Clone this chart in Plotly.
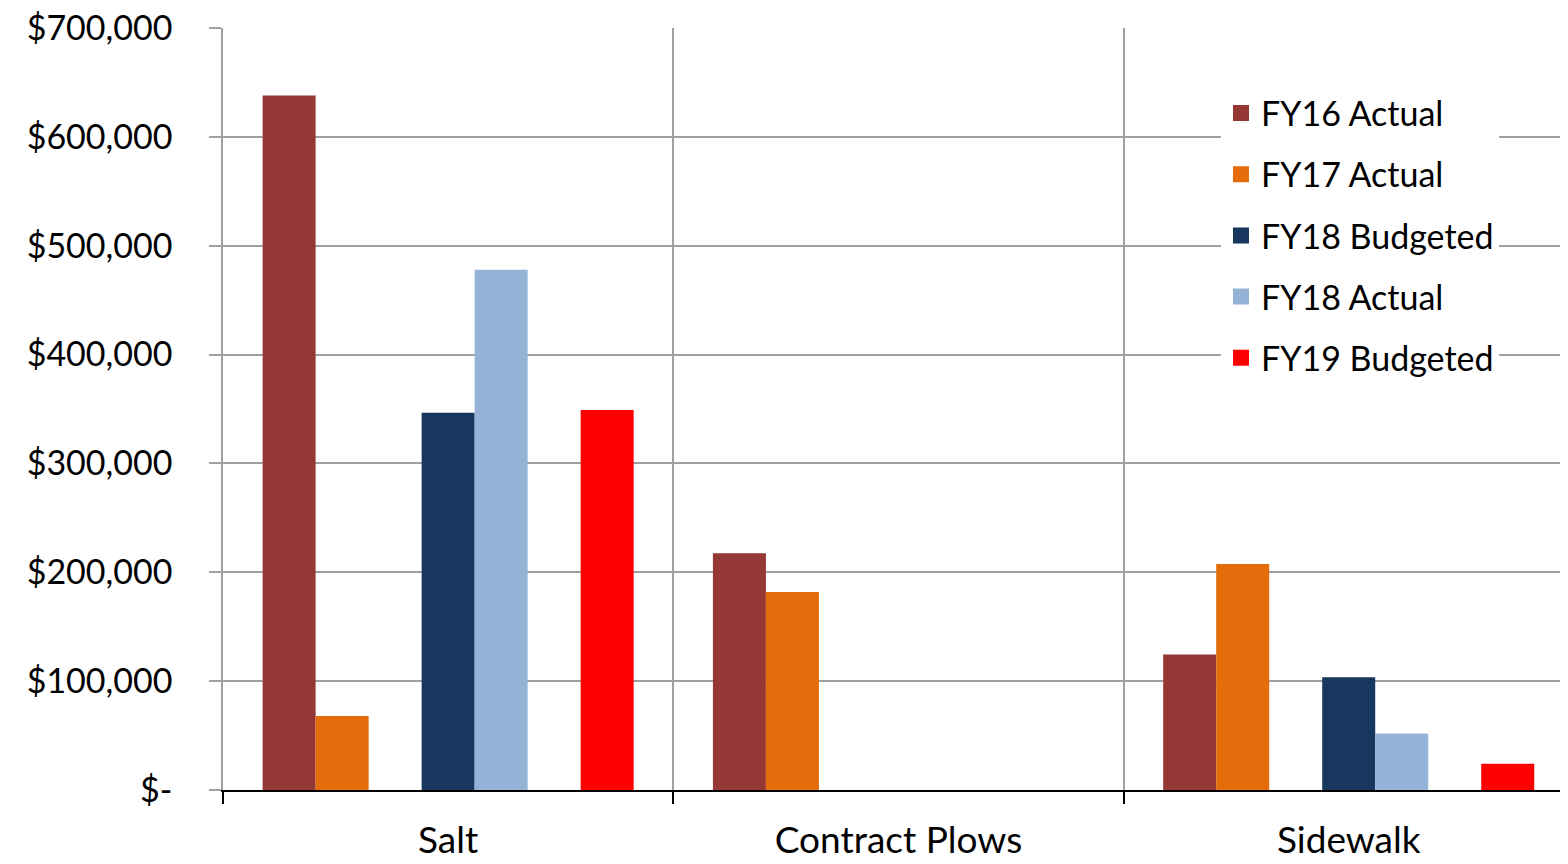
import plotly.graph_objects as go

categories = ["Salt", "Contract Plows", "Sidewalk"]
series_names = ["FY16 Actual", "FY17 Actual", "", "FY18 Budgeted", "FY18 Actual", "", "FY19 Budgeted"]
fy16_actual = [638000, 217500, 124500]
fy17_actual = [68000, 182000, 207500]
blank_a = [0, 0, 0]
fy18_budgeted = [346500, 0, 103500]
fy18_actual = [478000, 0, 52000]
blank_b = [0, 0, 0]
fy19_budgeted = [349000, 0, 24000]
colors = ["#953735", "#E46C0A", "#FFFFFF", "#17375E", "#95B3D7", "#FFFFFF", "#FF0000"]
y_tickvals = [0, 100000, 200000, 300000, 400000, 500000, 600000, 700000]
y_ticktext = ["$-", "$100,000", "$200,000", "$300,000", "$400,000", "$500,000", "$600,000", "$700,000"]

FONT = "Lato"
all_series = [fy16_actual, fy17_actual, blank_a, fy18_budgeted, fy18_actual, blank_b, fy19_budgeted]

fig = go.Figure()
for i, (name, vals, col) in enumerate(zip(series_names, all_series, colors)):
    fig.add_trace(go.Bar(
        x=categories, y=vals, name=name or f"blank{i}", marker=dict(color=col, line=dict(width=0)),
        offsetgroup=str(i), showlegend=False, hoverinfo="skip" if not name else None,
    ))

# legend entries
for i, (name, col) in enumerate(zip(series_names, colors)):
    if not name:
        continue
    fig.add_trace(go.Scatter(
        x=[None], y=[None], mode="markers", name=name,
        marker=dict(symbol="square", size=20, color=col),
        legendgroup=f"g{i}", showlegend=True,
    ))

fig.update_layout(
    width=1560, height=856,
    margin=dict(l=215, r=0, t=20, b=74, autoexpand=False),
    paper_bgcolor="white", plot_bgcolor="white",
    barmode="group", bargap=0.176, bargroupgap=0,
    font=dict(family=FONT, size=34, color="black"),
    legend=dict(
        x=0.742, y=0.926, xanchor="left", yanchor="top",
        bgcolor="white", borderwidth=0,
        font=dict(family=FONT, size=34, color="black"),
        tracegroupgap=14, traceorder="grouped",
    ),
    xaxis=dict(
        type="category", range=[-0.5, 2.487], tickson="boundaries", automargin=False,
        showgrid=True, gridcolor="#A0A0A0", gridwidth=1.5,
        showline=True, linecolor="black", linewidth=2,
        ticks="outside", ticklen=12, tickwidth=2, tickcolor="black",
        tickfont=dict(family=FONT, size=37), ticklabelstandoff=17,
        ticklabeloverflow="allow",
    ),
    yaxis=dict(
        range=[0, 700000], tickvals=y_tickvals, ticktext=y_ticktext, automargin=False,
        showgrid=True, gridcolor="#A0A0A0", gridwidth=1.5, zeroline=False,
        showline=True, linecolor="#A0A0A0", linewidth=1.5,
        ticks="outside", ticklen=12, tickwidth=1.5, tickcolor="#A0A0A0",
        tickfont=dict(family=FONT, size=34), ticklabelstandoff=30,
        ticklabeloverflow="allow",
    ),
)

fig.write_html("out.html")
